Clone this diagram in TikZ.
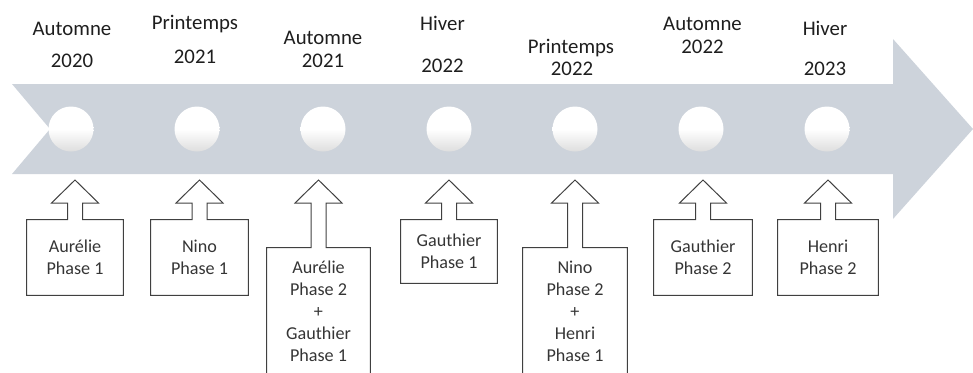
\documentclass[tikz,border=0pt]{standalone}
\usepackage{fontspec}
\setmainfont{Carlito}
\usetikzlibrary{calc}

\definecolor{bandgray}{HTML}{CDD3DB}
\definecolor{linegray}{HTML}{404040}
\definecolor{textgray}{HTML}{1E1E1E}

\begin{document}
\begin{tikzpicture}[
    x=0.75pt, y=-0.75pt,
    season/.style={anchor=base, inner sep=0pt, font=\fontsize{15.6}{18}\selectfont, text=textgray},
    dot/.style={circle, minimum size=33.75pt, inner sep=0pt, top color=white, bottom color=black!13, middle color=white},
    phasebox/.style={inner sep=0pt, align=center, font=\fontsize{13.6}{16.5}\selectfont, text=textgray!90},
    outline/.style={draw=linegray, line width=0.75pt, line join=miter}
]
\useasboundingbox (0,0) rectangle (973,372);
\coordinate (tip) at (0,180);
\coordinate (hb) at (0,203);

% timeline band
\fill[bandgray] (12,84) -- (893,84) -- (893,39) -- (973,129) -- (893,219) -- (893,174) -- (12,174) -- (50,129) -- cycle;
\foreach \i/\x in {1/71,2/197,3/323,4/449,5/575,6/701,7/827}
    \node[dot] (c\i) at (\x,129) {};

% seasons
\node[season] (t1a) at (72,35) {Automne};
\node[season] (t1b) at (72,67) {2020};
\node[season] (t2a) at (195,29) {Printemps};
\node[season] (t2b) at (195,63) {2021};
\node[season] (t3a) at (323,44) {Automne};
\node[season] (t3b) at (323,67) {2021};
\node[season] (t4a) at (442.5,30) {Hiver};
\node[season] (t4b) at (442.5,72) {2022};
\node[season] (t5a) at (571,53) {Printemps};
\node[season] (t5b) at (572,75) {2022};
\node[season] (t6a) at (702.5,30) {Automne};
\node[season] (t6b) at (702.5,53) {2022};
\node[season] (t7a) at (825,35) {Hiver};
\node[season] (t7b) at (825,75) {2023};

% phases
\node[phasebox, minimum width=72pt, minimum height=56.25pt] (b1) at (75,257.5) {Aurélie\\Phase 1};
\node[phasebox, minimum width=72.75pt, minimum height=56.25pt] (b2) at (199.5,257.5) {Nino\\Phase 1};
\node[phasebox, minimum width=77.25pt, minimum height=94.5pt] (b3) at (318.5,311) {Aurélie\\Phase 2\\+\\Gauthier\\Phase 1};
\node[phasebox, minimum width=72pt, minimum height=47.25pt] (b4) at (449,251.5) {Gauthier\\Phase 1};
\node[phasebox, minimum width=78pt, minimum height=94.5pt] (b5) at (575,311) {Nino\\Phase 2\\+\\Henri\\Phase 1};
\node[phasebox, minimum width=73.5pt, minimum height=56.25pt] (b6) at (703,257.5) {Gauthier\\Phase 2};
\node[phasebox, minimum width=75pt, minimum height=56.25pt] (b7) at (828,257.5) {Henri\\Phase 2};

\foreach \i in {1,...,7}{
    \draw[outline] (b\i.south west) -- (b\i.north west)
        -- ($(b\i.north)+(-7.5,0)$) |- ($(b\i.north |- hb)+(-23.5,0)$)
        -- (b\i.north |- tip)
        -- ($(b\i.north |- hb)+(23.5,0)$) -- ($(b\i.north |- hb)+(7.5,0)$)
        -- ($(b\i.north)+(7.5,0)$) -- (b\i.north east) -- (b\i.south east) -- cycle;
}
\end{tikzpicture}
\end{document}
